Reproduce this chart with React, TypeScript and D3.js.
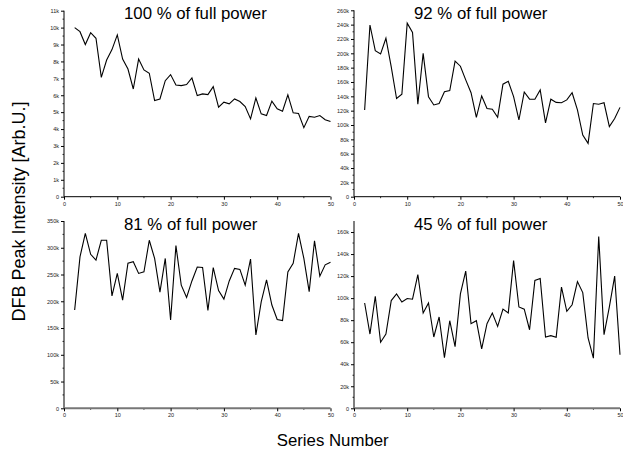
import React, {useRef, useEffect} from 'react'
import * as d3 from 'd3'

// series numbers on the x axis
const seriesNumbers = [2, 3, 4, 5, 6, 7, 8, 9, 10, 11, 12, 13, 14, 15, 16, 17, 18, 19, 20, 21, 22, 23, 24, 25, 26,
    27, 28, 29, 30, 31, 32, 33, 34, 35, 36, 37, 38, 39, 40, 41, 42, 43, 44, 45, 46, 47, 48, 49, 50]

// peak intensities, in thousands (k)
const power100 = [10.0, 9.76, 9.0, 9.7, 9.37, 7.06, 8.08, 8.7, 9.57, 8.14, 7.55, 6.37, 8.14, 7.5, 7.3, 5.69, 5.78,
    6.86, 7.22, 6.6, 6.57, 6.63, 7.02, 5.98, 6.08, 6.04, 6.51, 5.29, 5.59, 5.49, 5.78, 5.63, 5.33, 4.6, 5.84, 4.9,
    4.8, 5.65, 5.2, 5.06, 6.02, 4.96, 4.92, 4.08, 4.75, 4.7, 4.8, 4.55, 4.45]
const power92 = [121, 239.5, 203.7, 199, 221, 181, 137, 143, 242, 229, 129, 200, 139.5, 128, 130, 146.5, 148, 189,
    182, 163, 145, 110.7, 140.5, 123, 122, 110.7, 157, 161, 139.5, 107, 146, 136, 136, 149, 103, 136, 131.6, 131,
    135, 145, 121, 86, 74.4, 130, 129, 131, 97.7, 109, 124.6]
const power81 = [183.7, 283, 327, 287.7, 277, 314, 314, 210, 252, 202, 271, 274, 252, 255, 314, 280, 217, 280, 165,
    304, 230, 207, 238, 264, 263, 183, 263, 220, 204, 238, 261.5, 259.6, 230, 279, 137, 199, 240, 193, 166, 164,
    255, 271, 327, 280, 218, 313, 247, 268, 273]
const power45 = [95.6, 67.4, 101.7, 60, 67.4, 97.8, 103.8, 96.5, 99.6, 99, 121.4, 86.5, 95.6, 64.7, 82.9, 46, 79.5,
    56, 103.8, 124.5, 76.8, 79.5, 54, 76.8, 86.5, 74.4, 90, 86.5, 134, 92, 90, 71.3, 116, 117.8, 64.7, 65.9, 64.4,
    110, 88, 94, 115, 105, 63.8, 45.5, 156, 66.8, 92, 120, 48.6]

const titles = ['100 % of full power', '92 % of full power', '81 % of full power', '45 % of full power']
const xTicks = [0, 10, 20, 30, 40, 50]
const yTicks100 = [0, 1, 2, 3, 4, 5, 6, 7, 8, 9, 10, 11]
const yTicks92 = [0, 20, 40, 60, 80, 100, 120, 140, 160, 180, 200, 220, 240, 260]
const yTicks81 = [0, 50, 100, 150, 200, 250, 300, 350]
const yTicks45 = [0, 20, 40, 60, 80, 100, 120, 140, 160]

const w = 623
const h = 455

const App = () => {
    const d3Container = useRef(null)

    useEffect(() => {
        const svg = d3.select(d3Container.current)

        // panel layout: left/right columns, top/bottom rows
        const panels = [
            {values: power100, ticks: yTicks100, yMax: 11, minorStep: 0.5, left: 64, right: 330.5, top: 10.7, bottom: 196.7, axisColor: '#000', axisWidth: 1},
            {values: power92, ticks: yTicks92, yMax: 260, minorStep: 10, left: 354, right: 620, top: 10.3, bottom: 196.7, axisColor: '#000', axisWidth: 1},
            {values: power81, ticks: yTicks81, yMax: 350, minorStep: 25, left: 64, right: 330.5, top: 221, bottom: 408.3, axisColor: '#777', axisWidth: 2},
            {values: power45, ticks: yTicks45, yMax: 170, minorStep: 10, left: 354, right: 620, top: 221, bottom: 408.3, axisColor: '#777', axisWidth: 2},
        ]

        panels.forEach((p, i) => {
            const g = svg.append('g')

            const xscale = d3.scaleLinear().domain([0, 50]).range([p.left, p.right])
            const yscale = d3.scaleLinear().domain([0, p.yMax]).range([p.bottom, p.top])

            // minor ticks
            const yMinor = d3.range(p.minorStep, p.yMax, p.minorStep * 2)
            g.selectAll('.ymin').data(yMinor).enter().append('line')
                .attr('x1', p.left - 1.5).attr('x2', p.left)
                .attr('y1', d => yscale(d)).attr('y2', d => yscale(d))
                .attr('stroke', '#000').attr('stroke-width', 0.8)
            g.selectAll('.xmin').data([5, 15, 25, 35, 45]).enter().append('line')
                .attr('x1', d => xscale(d)).attr('x2', d => xscale(d))
                .attr('y1', p.bottom).attr('y2', p.bottom + 1.5)
                .attr('stroke', '#000').attr('stroke-width', 0.8)

            // y axis
            const y_axis = d3.axisLeft(yscale)
                .tickValues(p.ticks)
                .tickSize(3)
                .tickPadding(2)
                .tickFormat(d => d === 0 ? '0' : d + 'k')
            const gY = g.append('g')
                .attr('transform', `translate(${p.left}, 0)`)
                .call(y_axis)
            gY.select('.domain').attr('d', `M0,${p.bottom}V${p.top}`).attr('stroke', '#000')
            gY.selectAll('text').attr('font-family', 'Liberation Sans, Arial, sans-serif').attr('font-size', 5.5).attr('fill', '#222')

            // x axis
            const x_axis = d3.axisBottom(xscale)
                .tickValues(xTicks)
                .tickSize(3)
                .tickPadding(2)
                .tickFormat(d3.format('d'))
            const gX = g.append('g')
                .attr('transform', `translate(0, ${p.bottom})`)
                .call(x_axis)
            gX.select('.domain').attr('d', `M${p.left},0H${p.right}`)
                .attr('stroke', p.axisColor).attr('stroke-width', p.axisWidth)
            gX.selectAll('text').attr('font-family', 'Liberation Sans, Arial, sans-serif').attr('font-size', 5.5).attr('fill', '#222')

            // data line
            const line = d3.line()
                .x((d, j) => xscale(seriesNumbers[j]))
                .y(d => yscale(d))
            g.append('path')
                .datum(p.values)
                .attr('d', line)
                .attr('fill', 'none')
                .attr('stroke', '#000')
                .attr('stroke-width', 1.1)
                .attr('stroke-linejoin', 'miter')

            // panel title
            g.append('text')
                .attr('x', p.left + 60)
                .attr('y', i < 2 ? 18.5 : 230)
                .attr('font-family', 'Liberation Sans, Arial, sans-serif')
                .attr('font-size', 16.8)
                .attr('fill', '#000')
                .text(titles[i])
        })

        // shared axis titles
        svg.append('text')
            .attr('transform', 'translate(24.5, 211.5) rotate(-90)')
            .attr('text-anchor', 'middle')
            .attr('font-family', 'Liberation Sans, Arial, sans-serif')
            .attr('font-size', 18)
            .text('DFB Peak Intensity [Arb.U.]')
        svg.append('text')
            .attr('x', 332.7)
            .attr('y', 446)
            .attr('text-anchor', 'middle')
            .attr('font-family', 'Liberation Sans, Arial, sans-serif')
            .attr('font-size', 16.8)
            .text('Series Number')

        return () => {
            svg.selectAll('*').remove()
        }
    }, [])

    return (
        <svg
            width={w}
            height={h}
            ref={d3Container}
            style={{position: 'absolute', left: 0, top: 0, background: '#fff'}}
        />
    )
}

export default App
